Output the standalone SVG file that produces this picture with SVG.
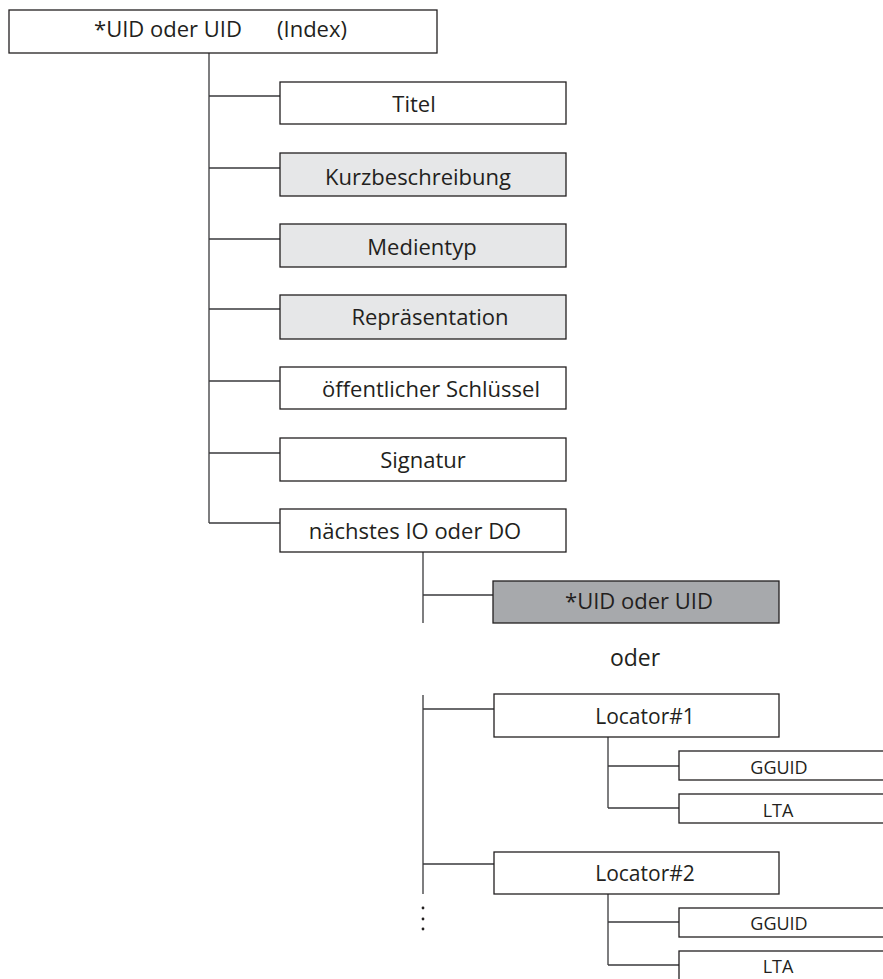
<svg xmlns="http://www.w3.org/2000/svg" width="883" height="979" viewBox="0 0 883 979">
  <style>
    .box { fill: #ffffff; stroke: #231f20; stroke-width: 1.3; }
    .light { fill: #e6e7e8; }
    .dark { fill: #a7a9ac; }
    .lbl { font-family: "Open Sans", "Liberation Sans", sans-serif; font-size: 22px; fill: #231f20; text-anchor: middle; }
    .sm { font-size: 18px; }
    .conn { fill: none; stroke: #3a3a3c; stroke-width: 1.3; }
  </style>

  <!-- tree connectors -->
  <g id="connectors" class="conn">
    <path d="M209 53 V523 M209 96 H280 M209 168 H280 M209 239 H280 M209 309 H280 M209 381 H280 M209 453 H280 M209 523 H280"/>
    <path d="M423 552 V623 M423 595 H493"/>
    <path d="M423 695 V894 M423 709 H494 M423 864 H494"/>
    <path d="M608 737 V808 M608 766 H679 M608 808 H679"/>
    <path d="M608 894 V965 M608 922 H679 M608 965 H679"/>
    <g fill="#231f20" stroke="none">
      <circle cx="423" cy="908" r="1.4"/>
      <circle cx="423" cy="919" r="1.4"/>
      <circle cx="423" cy="929" r="1.4"/>
    </g>
  </g>

  <g id="root">
    <rect class="box" x="9" y="10" width="428" height="43"/>
    <text class="lbl" x="168" y="37">*UID oder UID</text>
    <text class="lbl" x="312" y="37">(Index)</text>
  </g>

  <g id="titel">
    <rect class="box" x="280" y="82" width="286" height="42"/>
    <text class="lbl" x="414" y="112">Titel</text>
  </g>
  <g id="kurzbeschreibung">
    <rect class="box light" x="280" y="153" width="286" height="43"/>
    <text class="lbl" x="418" y="185">Kurzbeschreibung</text>
  </g>
  <g id="medientyp">
    <rect class="box light" x="280" y="224" width="286" height="43"/>
    <text class="lbl" x="422" y="255">Medientyp</text>
  </g>
  <g id="repraesentation">
    <rect class="box light" x="280" y="295" width="286" height="44"/>
    <text class="lbl" x="430" y="325">Repräsentation</text>
  </g>
  <g id="schluessel">
    <rect class="box" x="280" y="367" width="286" height="42"/>
    <text class="lbl" x="431" y="397">öffentlicher Schlüssel</text>
  </g>
  <g id="signatur">
    <rect class="box" x="280" y="438" width="286" height="43"/>
    <text class="lbl" x="423" y="468">Signatur</text>
  </g>
  <g id="naechstes">
    <rect class="box" x="280" y="509" width="286" height="43"/>
    <text class="lbl" x="415" y="539">nächstes IO oder DO</text>
  </g>

  <g id="uid-ref">
    <rect class="box dark" x="493" y="581" width="286" height="42"/>
    <text class="lbl" x="639" y="609">*UID oder UID</text>
  </g>

  <text id="oder" class="lbl" x="635" y="666" style="font-size:23px">oder</text>

  <g id="locator1">
    <rect class="box" x="494" y="694" width="285" height="43"/>
    <text class="lbl" x="645" y="724" style="font-size:21px">Locator#1</text>
  </g>
  <g id="gguid1">
    <rect class="box" x="679" y="751" width="230" height="29"/>
    <text class="lbl sm" x="779" y="774">GGUID</text>
  </g>
  <g id="lta1">
    <rect class="box" x="679" y="794" width="230" height="29"/>
    <text class="lbl sm" x="778" y="817">LTA</text>
  </g>

  <g id="locator2">
    <rect class="box" x="494" y="852" width="285" height="42"/>
    <text class="lbl" x="645" y="881" style="font-size:21px">Locator#2</text>
  </g>
  <g id="gguid2">
    <rect class="box" x="679" y="908" width="230" height="29"/>
    <text class="lbl sm" x="779" y="930">GGUID</text>
  </g>
  <g id="lta2">
    <rect class="box" x="679" y="951" width="230" height="40"/>
    <text class="lbl sm" x="778" y="973">LTA</text>
  </g>
</svg>
